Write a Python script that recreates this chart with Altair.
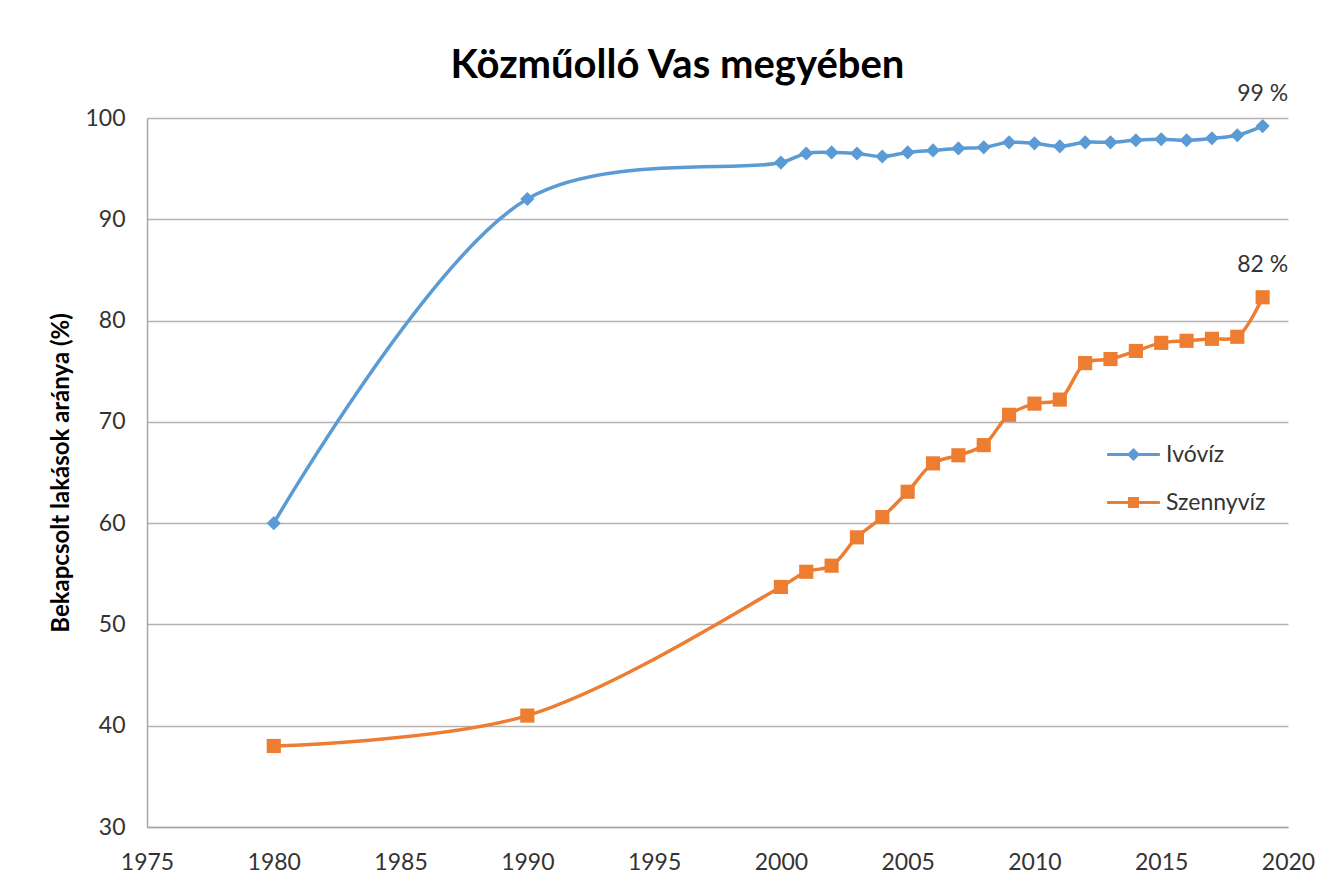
import altair as alt
import pandas as pd

years = [1980, 1990, 2000, 2001, 2002, 2003, 2004, 2005, 2006, 2007, 2008,
         2009, 2010, 2011, 2012, 2013, 2014, 2015, 2016, 2017, 2018, 2019]
ivoviz = [60.0, 92.0, 95.6, 96.5, 96.6, 96.5, 96.2, 96.6, 96.8, 97.0, 97.1,
          97.6, 97.5, 97.2, 97.6, 97.6, 97.8, 97.9, 97.8, 98.0, 98.3, 99.2]
szennyviz = [38.0, 41.0, 53.7, 55.2, 55.8, 58.6, 60.6, 63.1, 65.9, 66.7, 67.7,
             70.7, 71.8, 72.2, 75.8, 76.2, 77.0, 77.8, 78.0, 78.2, 78.4, 82.3]
series_names = ["Ivóvíz", "Szennyvíz"]
series_colors = ["#5B9BD5", "#ED7D31"]
x_ticks = [1975, 1980, 1985, 1990, 1995, 2000, 2005, 2010, 2015, 2020]
y_ticks = [30, 40, 50, 60, 70, 80, 90, 100]

rows = []
for name, vals in zip(series_names, [ivoviz, szennyviz]):
    for yr, v in zip(years, vals):
        rows.append({"year": yr, "value": v, "series": name,
                     "fill_key": name, "shape_key": name})
df = pd.DataFrame(rows)

FONT = "Lato"
TXT = "#333333"
LINE_DIAMOND = "M-1.2,0H1.2M0,-0.2L0.2,0L0,0.2L-0.2,0Z"
LINE_SQUARE = "M-1.2,0H1.2M-0.18,-0.18H0.18V0.18H-0.18Z"

legend_common = dict(
    title=None, orient="none", legendX=963,
    labelFont=FONT, labelFontSize=23, labelColor=TXT,
    symbolSize=1936, symbolStrokeWidth=3, labelOffset=9, symbolOpacity=1,
)

color = alt.Color(
    "series:N",
    scale=alt.Scale(domain=series_names, range=series_colors),
    legend=alt.Legend(values=[series_names[0]], legendY=313,
                      symbolType=LINE_DIAMOND,
                      symbolFillColor=series_colors[0],
                      symbolStrokeColor=series_colors[0],
                      **legend_common),
)
fill = alt.Fill(
    "fill_key:N",
    scale=alt.Scale(range=series_colors),
    legend=alt.Legend(values=[series_names[1]], legendY=361,
                      symbolType=LINE_SQUARE,
                      symbolFillColor=series_colors[1],
                      symbolStrokeColor=series_colors[1],
                      **legend_common),
)
shape = alt.Shape("shape_key:N", scale=alt.Scale(range=["diamond", "square"]),
                  legend=None)

x = alt.X("year:Q", scale=alt.Scale(domain=[1975, 2020], nice=False, zero=False),
          axis=alt.Axis(values=x_ticks, format="d", grid=False, title=None,
                        labelPadding=24, labelFlush=False))
y = alt.Y("value:Q", scale=alt.Scale(domain=[30, 100], nice=False, zero=False),
          axis=alt.Axis(values=y_ticks, title="Bekapcsolt lakások aránya (%)",
                        labelPadding=22, titlePadding=11, labelFlush=False,
                        titleFont=FONT, titleFontSize=24, titleFontWeight="bold",
                        titleColor="#000000"))

base = alt.Chart(df)

lines = base.mark_line(interpolate="catmull-rom", strokeWidth=3.5).encode(
    x=x, y=y, color=color, detail="series:N")

points = base.mark_point(filled=True, opacity=1, size=200).encode(
    x=x, y=y, fill=fill, shape=shape)

labels = base.transform_joinaggregate(
    maxyear="max(year)"
).transform_filter(
    "datum.year == datum.maxyear"
).transform_calculate(
    label="format(datum.value, '.0f') + ' %'"
).mark_text(dy=-32, font=FONT, fontSize=23, color=TXT).encode(
    x=x, y=y, text="label:N")

chart = alt.layer(lines, points, labels).properties(
    width=1141, height=709,
    title=alt.TitleParams("Közműolló Vas megyében", font=FONT, fontSize=40,
                          fontWeight="bold", color="#000000", anchor="middle",
                          frame="group", dx=-40, dy=39, offset=36),
    autosize=alt.AutoSizeParams(type="none"),
    padding={"left": 139, "top": 110, "right": 30, "bottom": 50},
).configure_view(stroke=None).configure_axis(
    domainColor="#A6A6A6", domainWidth=1.5, gridColor="#B3B3B3", gridWidth=1.3,
    ticks=False, labelFont=FONT, labelFontSize=23, labelColor=TXT,
)

chart.save("out.html", embed_options={"renderer": "svg", "actions": False})
